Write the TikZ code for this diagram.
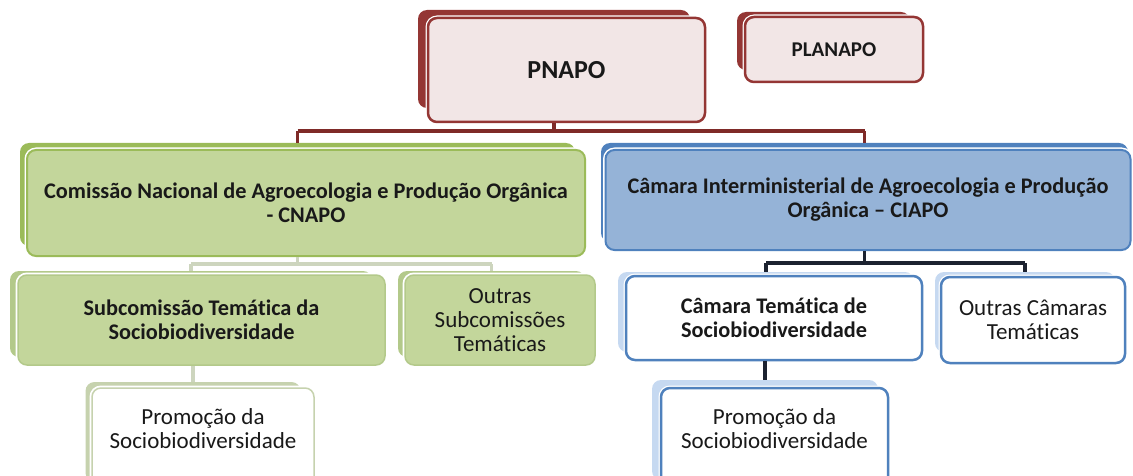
\documentclass[tikz,border=0pt]{standalone}
\usepackage{fontspec}
\setmainfont{Carlito}[Ligatures=NoCommon]
\definecolor{rd}{HTML}{943634}
\definecolor{rdline}{HTML}{7F2A28}
\definecolor{pinkf}{HTML}{F2E6E6}
\definecolor{gdark}{HTML}{9BBB59}
\definecolor{glight}{HTML}{C3D69B}
\definecolor{gmid}{HTML}{B3C98A}
\definecolor{gpale}{HTML}{C6D2AE}
\definecolor{gline}{HTML}{CDD5BE}
\definecolor{bdark}{HTML}{4F81BD}
\definecolor{blight}{HTML}{95B3D7}
\definecolor{bpale}{HTML}{C6D9F1}
\definecolor{kline}{HTML}{1C2230}
\newcommand{\bfbox}{\fontsize{22.3}{24}\selectfont\bfseries}
\newcommand{\rgbox}{\fontsize{23}{24}\selectfont}
\tikzset{
  box/.style={rectangle, rounded corners=9pt, inner sep=0pt, align=center, text=black!90, font=\rgbox},
  back/.style={rectangle, rounded corners=9pt, inner sep=0pt},
  halo/.style={preaction={draw=white, line width=5pt}},
  redfront/.style={box, halo, fill=pinkf, draw=rd, line width=2.5pt},
  redback/.style={back, fill=rd},
  gfront/.style={box, halo, fill=glight, draw=gdark, line width=2pt},
  gback/.style={back, fill=gdark},
  gsubfront/.style={box, halo, fill=glight, draw=gmid, line width=1.5pt},
  gsubback/.style={back, fill=gmid},
  gpromfront/.style={box, halo, fill=white, draw=gpale, line width=1.5pt},
  gpromback/.style={back, fill=gpale},
  bfront/.style={box, halo, fill=blight, draw=bdark, line width=2pt},
  bback/.style={back, fill=bdark},
  bsubfront/.style={box, halo, fill=white, draw=bdark, line width=2.5pt},
  bsubback/.style={back, fill=bpale},
  redconn/.style={draw=rdline, line width=3.2pt},
  gconn/.style={draw=gline, line width=3.2pt},
  kconn/.style={draw=kline, line width=3.2pt},
}
\begin{document}
\begin{tikzpicture}[x=1pt, y=-1pt]
\useasboundingbox (0,0) rectangle (1133,476);
\clip (0,0) rectangle (1133,476);
% back boxes
\node[redback, minimum width=272pt, minimum height=98pt] (pnB) at (554,59) {};
\node[redback, minimum width=173pt, minimum height=58pt] (plB) at (823.5,41) {};
\node[gback, minimum width=555pt, minimum height=103pt] (cnB) at (297.5,194.5) {};
\node[bback, minimum width=527pt, minimum height=99pt] (ciB) at (864.5,192.5) {};
\node[gsubback, minimum width=362pt, minimum height=86pt] (sbB) at (191,314) {};
\node[gsubback, minimum width=187pt, minimum height=86pt] (osB) at (491.5,314) {};
\node[gpromback, minimum width=215pt, minimum height=100pt] (gpB) at (193,432) {};
\node[bsubback, minimum width=296pt, minimum height=80pt] (ctB) at (766,312) {};
\node[bsubback, minimum width=180pt, minimum height=80pt] (ocB) at (1025,312) {};
\node[bsubback, minimum width=226pt, minimum height=100pt] (bpB) at (765,430) {};
% front boxes
\node[redfront, minimum width=277pt, minimum height=104pt, font=\fontsize{26}{28}\selectfont\bfseries] (pn) at (566.5,70) {PNAPO};
\node[redfront, minimum width=178pt, minimum height=65pt, font=\fontsize{21}{24}\selectfont\bfseries] (pl) at (834,49.5) {PLANAPO};
\node[gfront, minimum width=558pt, minimum height=106pt, font=\bfbox] (cn) at (306,203) {Comissão Nacional de Agroecologia e Produção Orgânica\\- CNAPO};
\node[bfront, minimum width=525pt, minimum height=100pt, font=\bfbox] (ci) at (868,200) {Câmara Interministerial de Agroecologia e Produção\\Orgânica – CIAPO};
\node[gsubfront, minimum width=367pt, minimum height=90pt, font=\bfbox] (sb) at (201.5,320) {Subcomissão Temática da\\Sociobiodiversidade};
\node[gsubfront, minimum width=190pt, minimum height=90pt] (os) at (500,320) {Outras\\Subcomissões\\Temáticas};
\node[gpromfront, minimum width=222pt, minimum height=112pt] (gp) at (203,444) {Promoção da\\Sociobiodiversidade\\[6pt]\mbox{}};
\node[bsubfront, minimum width=296pt, minimum height=84pt, font=\bfbox] (ct) at (774,318) {Câmara Temática de\\Sociobiodiversidade};
\node[bsubfront, minimum width=184pt, minimum height=86pt] (oc) at (1033,320) {Outras Câmaras\\Temáticas};
\node[bsubfront, minimum width=227pt, minimum height=112pt] (bp) at (774.5,444) {Promoção da\\Sociobiodiversidade\\[6pt]\mbox{}};
% connectors
\path[redconn] (pnB.south |- pn.south) -- (pnB.south |- 0,131) coordinate (pnj);
\path[redconn] (pnj -| cnB.north) -- (pnj -| ciB.north);
\path[redconn] (pnj -| cnB.north) -- (cnB.north);
\path[redconn] (pnj -| ciB.north) -- (ciB.north);
\path[gconn] (cnB.south |- cn.south) -- (cnB.south |- 0,264) coordinate (cnj);
\path[gconn] (cnj -| sbB.north) -- (cnj -| osB.north);
\path[gconn] (cnj -| sbB.north) -- (sbB.north);
\path[gconn] (cnj -| osB.north) -- (osB.north);
\path[kconn] (ciB.south |- ci.south) -- (ciB.south |- 0,263) coordinate (cij);
\path[kconn] (cij -| ctB.north) -- (cij -| ocB.north);
\path[kconn] (cij -| ctB.north) -- (ctB.north);
\path[kconn] (cij -| ocB.north) -- (ocB.north);
\path[gconn] (sb.south -| gpB.north) -- (gpB.north);
\path[kconn] (ct.south -| bpB.north) -- (bpB.north);
\end{tikzpicture}
\end{document}
